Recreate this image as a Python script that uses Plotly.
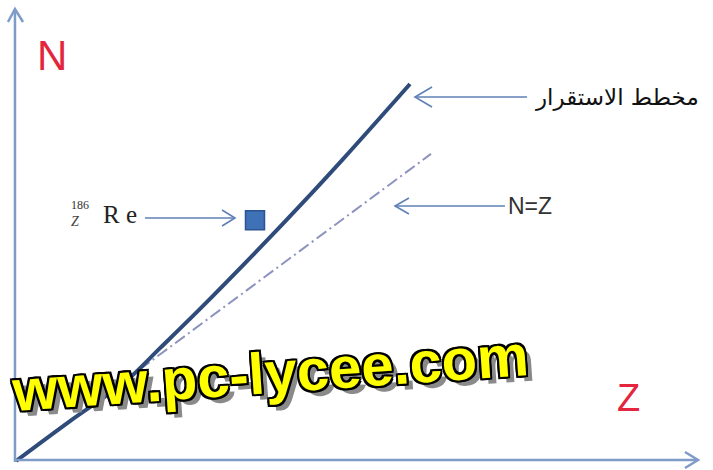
import plotly.graph_objects as go

# stability curve (Z, N), arbitrary units
stab_z = [0, 10.8, 21.8, 28.8, 36.8, 50.2, 56.8, 65.4, 78.8]
stab_n = [0, 10.8, 21.4, 30.5, 41.1, 59.6, 69.0, 81.6, 101.9]

# N = Z reference line
nz_z = [0, 83]
nz_n = [0, 83]

# Re-186 point
re_z = [47.8]
re_n = [65.1]

W, H = 713, 470

def px(x, y):
    # pixel position -> paper coords (decoration only)
    return x / W, 1 - y / H

def path(*pts):
    s = ""
    for i, (x, y) in enumerate(pts):
        a, b = px(x, y)
        s += ("M" if i == 0 else " L") + f" {a:.4f},{b:.4f}"
    return s

fig = go.Figure()

fig.add_trace(go.Scatter(x=nz_z, y=nz_n, mode="lines",
                         line=dict(color="#8d92be", width=2, dash="12px,4px,2px,4px"),
                         hoverinfo="skip"))
fig.add_trace(go.Scatter(x=stab_z, y=stab_n, mode="lines",
                         line=dict(color="#2f4b7a", width=4, shape="spline", smoothing=1),
                         hoverinfo="skip"))
fig.add_trace(go.Scatter(x=re_z, y=re_n, mode="markers",
                         marker=dict(symbol="square", size=19, color="#3e71b6",
                                     line=dict(color="#2a5590", width=1.5)),
                         hoverinfo="skip"))

axis_col = "#7f9cc8"
arr_col = "#5f80b6"

def seg(pts, col, w):
    return dict(type="path", xref="paper", yref="paper", path=path(*pts),
                line=dict(color=col, width=w))

shapes = [
    seg([(15, 462), (15, 9)], axis_col, 2.5),
    seg([(8, 22), (15, 9), (23, 22)], axis_col, 2.5),
    seg([(14, 460), (698, 460)], axis_col, 2.5),
    seg([(685, 452), (698, 460), (685, 468)], axis_col, 2.5),
    # label arrows
    seg([(145, 218), (235, 218)], arr_col, 1.6),
    seg([(222, 210), (235, 218), (222, 226)], arr_col, 1.6),
    seg([(505, 206), (395, 206)], arr_col, 1.6),
    seg([(409, 198), (395, 206), (409, 214)], arr_col, 1.6),
    seg([(527, 97), (415, 97)], arr_col, 1.6),
    seg([(432, 87), (415, 97), (432, 107)], arr_col, 1.6),
]

def label(x, y, text, size, color, family, **kw):
    a, b = px(x, y)
    return dict(x=a, y=b, xref="paper", yref="paper", text=text, showarrow=False,
                xanchor="center", yanchor="middle",
                font=dict(size=size, color=color, family=family), **kw)

annotations = [
    label(52, 56, "N", 42, "#e3263d", "Liberation Sans"),
    label(628, 398, "Z", 38, "#e3263d", "Liberation Sans"),
    label(617, 98, "مخطط الاستقرار", 23, "#111111", "DejaVu Sans"),
    label(530, 206, "N=Z", 23, "#333333", "Liberation Sans"),
    label(80, 205, "186", 12, "#333333", "Liberation Serif"),
    label(75, 221, "<i>Z</i>", 14, "#444444", "Liberation Serif"),
    label(120, 214, "R e", 25, "#222222", "Liberation Serif"),
]

wm = label(270, 372, "<b>www.pc-lycee.com</b>", 58, "#ffff00",
           "Liberation Sans", textangle=-4)
wm["font"]["shadow"] = ("2px 2px 0 #000, -2px -2px 0 #000, 2px -2px 0 #000, -2px 2px 0 #000, "
                        "0 2px 0 #000, 0 -2px 0 #000, 2px 0 0 #000, -2px 0 0 #000, "
                        "6px 6px 0 #8a8a8a")
annotations.append(wm)

fig.update_layout(
    width=W, height=H,
    margin=dict(l=0, r=0, t=0, b=0),
    paper_bgcolor="white", plot_bgcolor="white",
    showlegend=False,
    xaxis=dict(visible=False, range=[-16 / 5, (W - 16) / 5]),
    yaxis=dict(visible=False, range=[(461 - H) / 3.70, 461 / 3.70]),
    shapes=shapes,
    annotations=annotations,
)

fig.write_html("out.html", config={"displayModeBar": False},
               post_script="document.body.style.margin='0';")
